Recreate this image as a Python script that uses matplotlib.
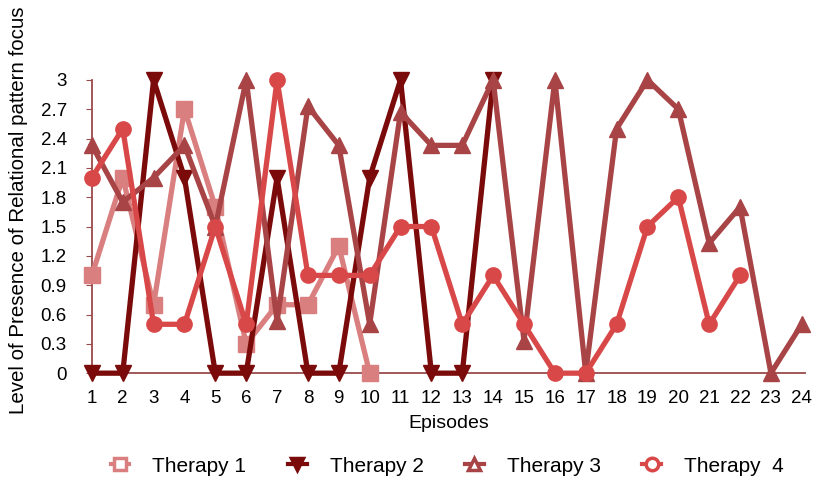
import matplotlib
matplotlib.use('Agg')
import matplotlib.pyplot as plt
from matplotlib.lines import Line2D

plt.rcParams['font.family'] = ['Liberation Sans', 'DejaVu Sans']

# 데이터
therapy1 = [1, 2, 0.7, 2.7, 1.7, 0.3, 0.7, 0.7, 1.3, 0]
therapy2 = [0, 0, 3, 2, 0, 0, 2, 0, 0, 2, 3, 0, 0, 3]
therapy3 = [2.33, 1.75, 2.0, 2.33, 1.5, 3, 0.53, 2.73, 2.33, 0.5, 2.67, 2.33,
            2.33, 3, 0.33, 3, 0, 2.5, 3, 2.7, 1.33, 1.7, 0, 0.5]
therapy4 = [2, 2.5, 0.5, 0.5, 1.5, 0.5, 3, 1, 1, 1, 1.5, 1.5, 0.5, 1,
            0.5, 0, 0, 0.5, 1.5, 1.8, 0.5, 1]
labels = ['Therapy 1', 'Therapy 2', 'Therapy 3', 'Therapy  4']
colors = ['#DA7F7F', '#7B0A0A', '#A84446', '#D94848']
markers = ['s', 'v', '^', 'o']
yticks = [0, 0.3, 0.6, 0.9, 1.2, 1.5, 1.8, 2.1, 2.4, 2.7, 3]
episodes = list(range(1, 25))

fig = plt.figure(figsize=(8.13, 4.84), dpi=100)
ax = fig.add_axes([0.113, 0.229, 0.877, 0.606])

# 그리는 순서: 3, 4, 1, 2 (2번이 가장 위)
order = [2, 3, 0, 1]
series = [therapy1, therapy2, therapy3, therapy4]
for i in order:
    vals = series[i]
    x = episodes[:len(vals)]
    ax.plot(x, vals, color=colors[i], marker=markers[i], lw=3.8,
            markersize=11, clip_on=False, zorder=3 + i)

ax.set_xlim(1, 24.1)
ax.set_ylim(0, 3)
ax.set_yticks(yticks)
ax.set_yticklabels([f'{t:g}' for t in yticks])
ax.set_xticks(episodes)
ax.tick_params(axis='x', length=0, pad=12, labelsize=13.5)
ax.tick_params(axis='y', length=4, color='#9B4A4A', labelsize=13.5, pad=14)

for s in ['top', 'right']:
    ax.spines[s].set_visible(False)
for s in ['left', 'bottom']:
    ax.spines[s].set_color('#9B4A4A')
    ax.spines[s].set_linewidth(1.3)

ax.set_xlabel('Episodes', fontsize=14, labelpad=6)
ax.set_ylabel('Level of Presence of Relational pattern focus', fontsize=14.8)
ax.yaxis.set_label_coords(-0.09, 0.555)

# 범례
handles = []
for i in range(4):
    face = colors[i] if i == 1 else 'white'
    handles.append(Line2D([0], [0], color=colors[i], marker=markers[i], lw=3,
                          markersize=9, markerfacecolor=face,
                          markeredgewidth=2.5))
fig.legend(handles, labels, loc='center', ncol=4, frameon=False,
           fontsize=15, bbox_to_anchor=(0.55, 0.037), handlelength=0.9,
           columnspacing=2.0, handletextpad=1.1)

plt.savefig('out.png', dpi=100)
plt.close()
